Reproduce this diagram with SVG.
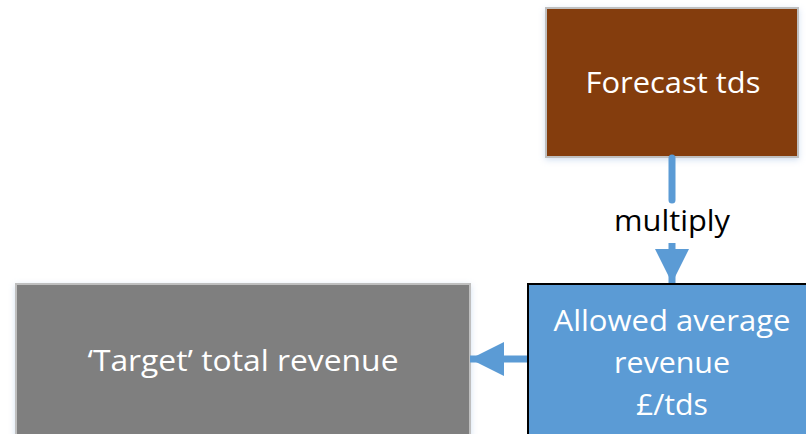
<svg xmlns="http://www.w3.org/2000/svg" width="806" height="434" viewBox="0 0 806 434">
  <defs>
    <filter id="glow" x="-10%" y="-10%" width="120%" height="120%">
      <feDropShadow dx="0" dy="2" stdDeviation="3" flood-color="#9dbbe0" flood-opacity="0.45"/>
    </filter>
    <marker id="arrow" markerUnits="userSpaceOnUse" markerWidth="34" markerHeight="34" refX="34" refY="17" orient="auto" viewBox="0 0 34 34">
      <path d="M0,0 L34,17 L0,34 Z" fill="#5b9bd5"/>
    </marker>
  </defs>
  <style>
    .label { font-family: "Open Sans", "Liberation Sans", sans-serif; font-size: 30px; fill: #ffffff; text-anchor: middle; }
    .dark { fill: #000000; }
    .conn { stroke: #5b9bd5; stroke-width: 7; fill: none; }
  </style>

  <rect width="806" height="434" fill="#ffffff"/>

  <g id="forecast-tds">
    <rect x="546" y="8" width="252" height="149" fill="#843c0c" stroke="#bfbfbf" stroke-width="2" filter="url(#glow)"/>
    <text class="label" x="673" y="93" textLength="175" lengthAdjust="spacingAndGlyphs">Forecast tds</text>
  </g>

  <g id="target-revenue">
    <rect x="16" y="284" width="454" height="160" fill="#7f7f7f" stroke="#bfbfbf" stroke-width="2" filter="url(#glow)"/>
    <text class="label" x="243" y="371" textLength="311" lengthAdjust="spacingAndGlyphs">‘Target’ total revenue</text>
  </g>

  <g id="allowed-revenue">
    <rect x="528" y="284" width="290" height="160" fill="#5b9bd5" stroke="#000000" stroke-width="2"/>
    <text class="label" x="672" y="331" textLength="237" lengthAdjust="spacingAndGlyphs">Allowed average</text>
    <text class="label" x="672" y="373" textLength="116" lengthAdjust="spacingAndGlyphs">revenue</text>
    <text class="label" x="672" y="415" textLength="72" lengthAdjust="spacingAndGlyphs">£/tds</text>
  </g>

  <g id="connectors">
    <line class="conn" x1="672" y1="158" x2="672" y2="200" stroke-linecap="round"/>
    <line class="conn" x1="672" y1="243" x2="672" y2="283" marker-end="url(#arrow)"/>
    <text class="label dark" x="672" y="231" textLength="116" lengthAdjust="spacingAndGlyphs">multiply</text>
    <line class="conn" x1="527" y1="359" x2="470" y2="359" marker-end="url(#arrow)"/>
  </g>
</svg>
